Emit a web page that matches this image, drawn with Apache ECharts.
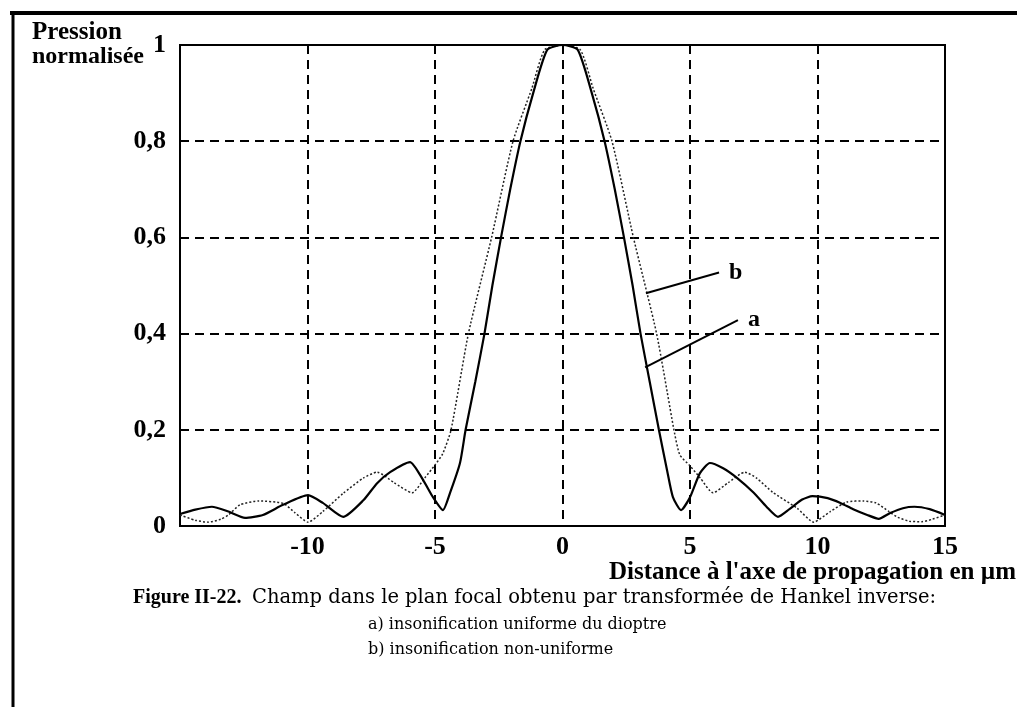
<!DOCTYPE html>
<html>
<head>
<meta charset="utf-8">
<script src="https://cdn.jsdelivr.net/npm/echarts@6/dist/echarts.min.js"></script>
<style>
  html, body { margin: 0; padding: 0; background: #fff; }
  #chart { width: 1019px; height: 707px; }
</style>
</head>
<body>
<div id="chart"></div>
<script>
// Radial distance (µm) and normalised pressure, curve a: uniform insonification
const distanceA = [-15, -14.4, -13.75, -13.1, -12.45, -11.75, -10.96, -9.98, -9.4, -8.6, -7.8, -7.27, -6.76, -5.98, -5.47, -5.08, -4.69, -4.41, -4.02, -3.8, -3.42, -3.06, -2.75, -2.41, -2.05, -1.65, -1.15, -0.6, 0, 0.6, 1.15, 1.65, 2.05, 2.41, 2.75, 3.06, 3.42, 3.78, 4.1, 4.33, 4.65, 5.0, 5.39, 5.78, 6.3, 6.84, 7.5, 8.0, 8.45, 8.9, 9.4, 9.8, 10.4, 10.9, 11.4, 11.95, 12.4, 12.85, 13.35, 13.8, 14.4, 15];
const pressureA = [0.025, 0.034, 0.04, 0.03, 0.017, 0.023, 0.044, 0.064, 0.048, 0.019, 0.054, 0.089, 0.112, 0.133, 0.096, 0.06, 0.033, 0.069, 0.131, 0.2, 0.3, 0.4, 0.5, 0.6, 0.7, 0.8, 0.9, 0.99, 1, 0.99, 0.9, 0.8, 0.7, 0.6, 0.5, 0.4, 0.3, 0.2, 0.116, 0.06, 0.033, 0.06, 0.11, 0.131, 0.12, 0.1, 0.069, 0.04, 0.019, 0.035, 0.055, 0.062, 0.058, 0.048, 0.035, 0.023, 0.015, 0.027, 0.037, 0.04, 0.035, 0.023];

// Curve b: non-uniform insonification
const distanceB = [-15, -14.4, -13.9, -13.4, -13.1, -12.65, -11.9, -10.95, -10.5, -9.98, -9.4, -8.6, -7.8, -7.27, -6.6, -5.9, -5.4, -5.0, -4.7, -4.37, -3.69, -2.78, -1.94, -1.2, -0.7, 0, 0.7, 1.2, 1.94, 2.78, 3.69, 4.37, 4.6, 5.0, 5.4, 5.9, 6.5, 7.15, 7.6, 8.25, 9.2, 9.85, 10.5, 11.15, 11.8, 12.3, 12.8, 13.15, 13.6, 14.1, 14.5, 15];
const pressureB = [0.023, 0.012, 0.008, 0.014, 0.023, 0.044, 0.052, 0.047, 0.028, 0.008, 0.03, 0.068, 0.1, 0.112, 0.09, 0.069, 0.1, 0.127, 0.15, 0.2, 0.4, 0.6, 0.8, 0.91, 0.99, 1, 0.99, 0.91, 0.8, 0.6, 0.4, 0.2, 0.148, 0.125, 0.1, 0.069, 0.09, 0.112, 0.1, 0.07, 0.037, 0.008, 0.03, 0.05, 0.052, 0.048, 0.03, 0.018, 0.01, 0.009, 0.014, 0.023];

// Axis ticks
const xTicks = { min: -15, max: 15, step: 5 };
const yTicks = { min: 0, max: 1, step: 0.2 };

// Leader lines pointing at each curve
const leaderA = [[3.24, 0.33], [6.88, 0.428]];
const leaderB = [[3.27, 0.484], [6.14, 0.527]];

const zip = (xs, ys) => xs.map((x, i) => [x, ys[i]]);

const boldSerif = 'Liberation Serif';
const chart = echarts.init(document.getElementById('chart'), null, { renderer: 'canvas' });

const gridLine = { show: true, lineStyle: { color: '#000', width: 2, type: [9, 6] } };

chart.setOption({
  animation: false,
  backgroundColor: '#ffffff',
  grid: {
    left: 180, right: 74, top: 45, bottom: 181,
    show: true, borderColor: '#000', borderWidth: 2, backgroundColor: 'transparent'
  },
  xAxis: {
    type: 'value', min: xTicks.min, max: xTicks.max, interval: xTicks.step,
    axisLine: { show: true, onZero: false, lineStyle: { color: '#000', width: 2 } },
    axisTick: { show: false },
    axisLabel: {
      margin: 8, color: '#000',
      fontFamily: boldSerif, fontWeight: 'bold', fontSize: 26,
      formatter: v => (v === xTicks.min ? '' : String(v))
    },
    splitLine: gridLine
  },
  yAxis: {
    type: 'value', min: yTicks.min, max: yTicks.max, interval: yTicks.step,
    axisLine: { show: true, onZero: false, lineStyle: { color: '#000', width: 2 } },
    axisTick: { show: false },
    axisLabel: {
      margin: 14, color: '#000',
      fontFamily: boldSerif, fontWeight: 'bold', fontSize: 26,
      formatter: v => String(Math.round(v * 10) / 10).replace('.', ',')
    },
    splitLine: gridLine
  },
  series: [
    {
      name: 'a', type: 'line', data: zip(distanceA, pressureA),
      symbol: 'none', smooth: 0.2,
      lineStyle: { color: '#000', width: 2.2 }, z: 4
    },
    {
      name: 'b', type: 'line', data: zip(distanceB, pressureB),
      symbol: 'none', smooth: 0.2,
      lineStyle: { color: '#222', width: 1.5, type: [2, 2] }, z: 3
    },
    {
      name: 'leader-a', type: 'line', data: leaderA, symbol: 'none',
      lineStyle: { color: '#000', width: 2 }, z: 5,
      endLabel: { show: true, formatter: 'a', distance: 10, color: '#000',
        fontFamily: boldSerif, fontWeight: 'bold', fontSize: 24 }
    },
    {
      name: 'leader-b', type: 'line', data: leaderB, symbol: 'none',
      lineStyle: { color: '#000', width: 2 }, z: 5,
      endLabel: { show: true, formatter: 'b', distance: 10, color: '#000',
        fontFamily: boldSerif, fontWeight: 'bold', fontSize: 24 }
    }
  ],
  graphic: [
    // page frame
    { type: 'line', shape: { x1: 10, y1: 13, x2: 1017, y2: 13 }, style: { stroke: '#000', lineWidth: 4 } },
    { type: 'line', shape: { x1: 13, y1: 11, x2: 13, y2: 707 }, style: { stroke: '#000', lineWidth: 3 } },
    // axis titles
    { type: 'text', x: 32, y: 33, style: { text: 'Pression', align: 'left', verticalAlign: 'middle',
      font: 'bold 25px "Liberation Serif"', fill: '#000' } },
    { type: 'text', x: 32, y: 57, style: { text: 'normalisée', align: 'left', verticalAlign: 'middle',
      font: 'bold 24px "Liberation Serif"', fill: '#000' } },
    { type: 'text', x: 1016, y: 573, style: { text: "Distance à l'axe de propagation en µm", align: 'right', verticalAlign: 'middle',
      font: 'bold 25px "Liberation Serif"', fill: '#000' } },
    // caption
    { type: 'text', x: 133, y: 598, style: { text: 'Figure II-22.', align: 'left', verticalAlign: 'middle',
      font: 'bold 20px "Liberation Serif"', fill: '#000' } },
    { type: 'text', x: 252, y: 598, style: { text: 'Champ dans le plan focal obtenu par transformée de Hankel inverse:', align: 'left', verticalAlign: 'middle',
      font: '19.5px "DejaVu Serif"', fill: '#000' } },
    { type: 'text', x: 368, y: 625, style: { text: 'a) insonification uniforme du dioptre', align: 'left', verticalAlign: 'middle',
      font: '16px "DejaVu Serif"', fill: '#000' } },
    { type: 'text', x: 368, y: 650, style: { text: 'b) insonification non-uniforme', align: 'left', verticalAlign: 'middle',
      font: '16px "DejaVu Serif"', fill: '#000' } }
  ]
});
</script>
</body>
</html>
